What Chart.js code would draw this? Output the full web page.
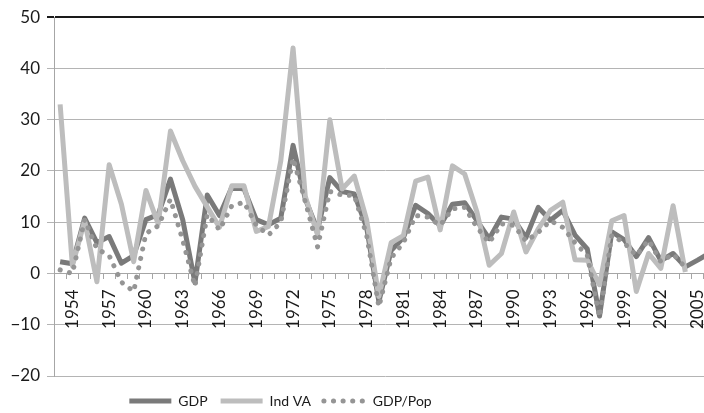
<!DOCTYPE html>
<html>
<head>
<meta charset="utf-8">
<script src="https://cdn.jsdelivr.net/npm/chart.js@4/dist/chart.umd.min.js"></script>
<style>
  html, body { margin: 0; padding: 0; overflow: hidden; background: #fff; }
  #wrap { position: relative; width: 716px; height: 413px; }
</style>
</head>
<body>
<div id="wrap"><canvas id="growthChart"></canvas></div>
<script>
// ── Data ────────────────────────────────────────────────────────────────────
const years = ['1953','1954','1955','1956','1957','1958','1959','1960','1961','1962',
  '1963','1964','1965','1966','1967','1968','1969','1970','1971','1972',
  '1973','1974','1975','1976','1977','1978','1979','1980','1981','1982',
  '1983','1984','1985','1986','1987','1988','1989','1990','1991','1992',
  '1993','1994','1995','1996','1997','1998','1999','2000','2001','2002',
  '2003','2004','2005','2006'];

const shownYears = ['1954','1957','1960','1963','1966','1969','1972','1975','1978',
  '1981','1984','1987','1990','1993','1996','1999','2002','2005'];

const gdp = [2.3, 1.9, 10.8, 6, 7.2, 2, 3.5, 10.5, 11.5, 18.4,
  10.5, -1.8, 15.3, 11.3, 16.8, 16.5, 10.5, 9.5, 10.8, 25,
  14.5, 8.5, 18.7, 16, 15.5, 9, -5.5, 4.5, 7, 13.3,
  11.7, 9.3, 13.5, 13.8, 10.3, 6.8, 11, 10.6, 7, 12.9,
  10.4, 12.3, 7.5, 4.8, -8.3, 8.1, 6.6, 3.3, 7, 2.5,
  3.9, 1.3, 2.6, 4];

const indVA = [33, 1.5, 10.3, -1.6, 21.2, 13.5, 2.3, 16.2, 9.7, 27.8,
  22, 17, 13, 9, 17.1, 17.1, 8.2, 9.2, 22, 44,
  15, 7.5, 30, 16.5, 19, 10.5, -4.5, 6, 7.4, 18,
  18.8, 8.5, 21, 19.4, 12, 1.6, 3.9, 12, 4.2, 8.7,
  12.3, 13.9, 2.7, 2.6, -2.2, 10.3, 11.3, -3.5, 3.9, 1,
  13.2, 0.3, null, null];

const gdpPop = [0.7, 0, 10.5, 4.8, 3.5, -1.7, -3.5, 7.8, 9.3, 14.5,
  6.5, -2.5, 11.5, 8.5, 13.2, 13.9, 9.4, 7.5, 10, 22.5,
  14, 5.2, 16, 15.3, 15.2, 7.5, -6.5, 3, 6, 11.3,
  11, 9.4, 12.6, 12.9, 9, 6, 9.7, 9.4, 6.3, 8,
  10.3, 9, 6, 3.5, -8.5, 7.5, 6, 3.5, 6.5, 2.3,
  3.8, 1.2, null, null];

// ── Chart.js defaults ──────────────────────────────────────────────────────
Chart.defaults.font.family = 'Lato';
Chart.defaults.color = '#1a1a1a';
Chart.defaults.animation = false;

const AXIS_GREY = '#a6a6a6';
const GRID_GREY = '#b4b4b4';

// move the legend box to where the original sits (left of centre, under the plot)
const legendSpot = {
  id: 'legendSpot',
  afterLayout(chart) {
    const lg = chart.legend;
    lg.left = 3;
    lg.right = 558;
    lg.top = 381;
  }
};

new Chart(document.getElementById('growthChart'), {
  type: 'line',
  data: {
    labels: years,
    datasets: [
      { label: 'GDP', data: gdp, borderColor: '#7a7a7a', borderWidth: 5,
        pointRadius: 0, tension: 0, borderJoinStyle: 'round', order: 3 },
      { label: 'Ind VA', data: indVA, borderColor: '#bdbdbd', borderWidth: 5,
        pointRadius: 0, tension: 0, borderJoinStyle: 'round', order: 2 },
      { label: 'GDP/Pop', data: gdpPop, borderColor: '#959595', borderWidth: 5,
        borderDash: [0.1, 9.5], borderCapStyle: 'round',
        pointRadius: 0, tension: 0, borderJoinStyle: 'round', order: 1 }
    ]
  },
  options: {
    responsive: true,
    maintainAspectRatio: false,
    layout: { padding: { top: 13, left: 0, right: 0, bottom: 0 } },
    plugins: {
      tooltip: { enabled: false },
      legend: {
        position: 'bottom',
        maxHeight: 37,
        labels: {
          usePointStyle: true,
          pointStyleWidth: 42,
          padding: 13,
          font: { size: 14 },
          generateLabels: chart => chart.data.datasets.map((ds, i) => ({
            text: ds.label,
            datasetIndex: i,
            strokeStyle: ds.borderColor,
            fillStyle: ds.borderColor,
            fontColor: '#1a1a1a',
            lineWidth: 5,
            lineDash: ds.borderDash || [],
            lineCap: ds.borderCapStyle || 'butt',
            pointStyle: 'line',
            hidden: false
          }))
        }
      }
    },
    scales: {
      x: {
        type: 'category',
        position: { y: 0 },
        offset: true,
        grid: { offset: true, drawOnChartArea: false, drawTicks: true, tickLength: 5, color: AXIS_GREY },
        border: { display: true, color: AXIS_GREY },
        ticks: {
          autoSkip: false, minRotation: 90, maxRotation: 90, padding: 11,
          font: { size: 17 },
          callback: (v, i) => shownYears.includes(years[i]) ? years[i] : ''
        },
        afterFit: s => { s.paddingLeft = 0; s.paddingRight = 0; }
      },
      y: {
        min: -20, max: 50,
        ticks: {
          stepSize: 10, padding: 7, font: { size: 17 },
          callback: v => String(v).replace('-', '\u2212')
        },
        grid: {
          color: c => (c.tick && c.tick.value === 50) ? '#1a1a1a' : GRID_GREY,
          lineWidth: c => (c.tick && c.tick.value === 50) ? 2 : 1,
          tickLength: 7
        },
        border: { display: true, color: AXIS_GREY },
        afterFit: s => { s.width = 54; }
      }
    }
  },
  plugins: [legendSpot]
});
</script>
</body>
</html>
